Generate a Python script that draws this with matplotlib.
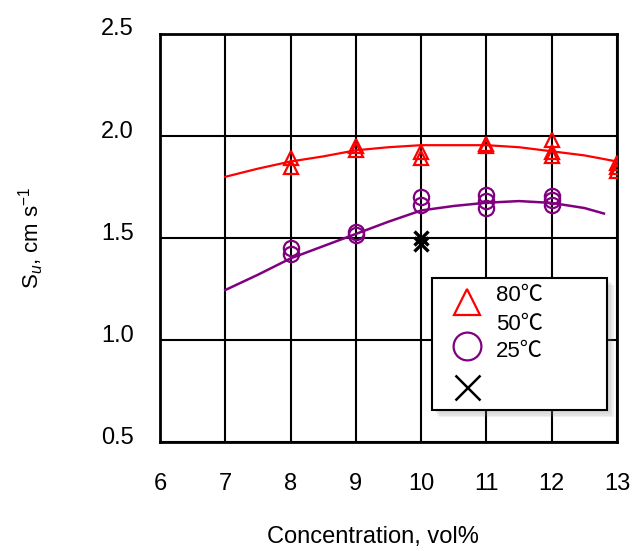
import matplotlib
matplotlib.use('Agg')
import matplotlib.pyplot as plt
import matplotlib.patches as mpatches
import matplotlib.transforms as mtransforms

plt.rcParams['font.family'] = ['Liberation Sans', 'DejaVu Sans']
plt.rcParams['mathtext.fontset'] = 'custom'
plt.rcParams['mathtext.rm'] = 'Liberation Sans'
plt.rcParams['mathtext.it'] = 'Liberation Sans:italic'
plt.rcParams.update({'font.size': 16})

# measured points
conc_80 = [8, 8, 9, 9, 10, 10, 11, 11, 12, 12, 12, 13, 13, 13]
su_80 = [1.89, 1.85, 1.95, 1.93, 1.92, 1.89, 1.96, 1.95, 1.98, 1.92, 1.90, 1.87, 1.85, 1.83]
conc_50 = [8, 8, 9, 9, 10, 10, 11, 11, 11, 12, 12, 12]
su_50 = [1.45, 1.42, 1.53, 1.515, 1.70, 1.66, 1.71, 1.68, 1.645, 1.705, 1.685, 1.66]
conc_25 = [10, 10]
su_25 = [1.50, 1.47]

# fitted curves
fit_x_80 = [7, 7.5, 8, 8.5, 9, 9.5, 10, 10.5, 11, 11.5, 12, 12.5, 13]
fit_80 = [1.80, 1.84, 1.875, 1.90, 1.93, 1.945, 1.955, 1.955, 1.955, 1.945, 1.925, 1.905, 1.875]
fit_x_50 = [7, 7.5, 8, 8.5, 9, 9.5, 10, 10.5, 11, 11.5, 12, 12.5, 12.8]
fit_50 = [1.245, 1.32, 1.40, 1.46, 1.52, 1.58, 1.635, 1.657, 1.673, 1.681, 1.672, 1.647, 1.62]

legend_labels = ['80\u2103', '50\u2103', '25\u2103']

red = '#ff0000'
purple = '#800080'

fig = plt.figure(figsize=(6.33, 5.51), dpi=100)
ax = fig.add_axes([0.2528, 0.1978, 0.7219, 0.7405])

ax.plot(fit_x_80, fit_80, color=red, lw=1.6, zorder=3)
ax.plot(fit_x_50, fit_50, color=purple, lw=1.8, zorder=3)
ax.plot(conc_80, su_80, ls='none', marker='^', ms=10, mfc='none', mec=red, mew=1.6, zorder=4)
ax.plot(conc_50, su_50, ls='none', marker='o', ms=11, mfc='none', mec=purple, mew=1.6, zorder=4)
ax.plot(conc_25, su_25, ls='none', marker='x', ms=10, mec='black', mew=2.4, zorder=4)

ax.set_xlim(6, 13)
ax.set_ylim(0.5, 2.5)
ax.set_xticks(range(6, 14))
ax.set_yticks([0.5, 1.0, 1.5, 2.0, 2.5])
ax.set_yticklabels(['0.5', '1.0', '1.5', '2.0', '2.5'])
ax.grid(True, color='black', lw=1.5)
ax.set_axisbelow(True)
for s in ax.spines.values():
    s.set_linewidth(2)
ax.tick_params(length=0, pad=0, labelsize=17)
ax.tick_params(axis='x', pad=22)
ax.tick_params(axis='y', pad=19)
off = mtransforms.ScaledTranslation(0, 7 / 100, fig.dpi_scale_trans)
for lab in ax.get_yticklabels():
    lab.set_transform(lab.get_transform() + off)

ax.set_xlabel('Concentration, vol%', fontsize=17)
ax.xaxis.set_label_coords(0.466, -0.205)
ax.set_ylabel(r'S$_{\it{u}}$, cm s$^{-1}$')
ax.yaxis.set_label_coords(-0.25, 0.5)

# legend box drawn by hand (labels sit apart from the markers)
x0, y0, w, h = 0.595, 0.078, 0.383, 0.324
for i, a in enumerate([0.06, 0.08, 0.10, 0.12]):
    d = 0.004 * (i + 1)
    ax.add_patch(mpatches.Rectangle((x0 + d, y0 - d * 1.1), w, h, transform=ax.transAxes,
                                    facecolor='gray', edgecolor='none', alpha=a, zorder=5))
ax.add_patch(mpatches.Rectangle((x0, y0), w, h, transform=ax.transAxes,
                                facecolor='white', edgecolor='black', lw=1.5, zorder=6))
ax.plot([0.672], [0.343], transform=ax.transAxes, marker='^', ms=19, mfc='none', mec=red, mew=1.6, zorder=7, clip_on=False)
ax.plot([0.672], [0.236], transform=ax.transAxes, marker='o', ms=20, mfc='none', mec=purple, mew=1.6, zorder=7, clip_on=False)
ax.plot([0.672], [0.135], transform=ax.transAxes, marker='x', ms=18, mec='black', mew=1.8, zorder=7, clip_on=False)
for yy, t in zip([0.358, 0.289, 0.221], legend_labels):
    ax.text(0.735, yy, t, transform=ax.transAxes, va='center', ha='left', zorder=7,
            family=['Liberation Sans', 'Noto Sans CJK SC', 'DejaVu Sans'])

fig.savefig('out.png', dpi=100)
